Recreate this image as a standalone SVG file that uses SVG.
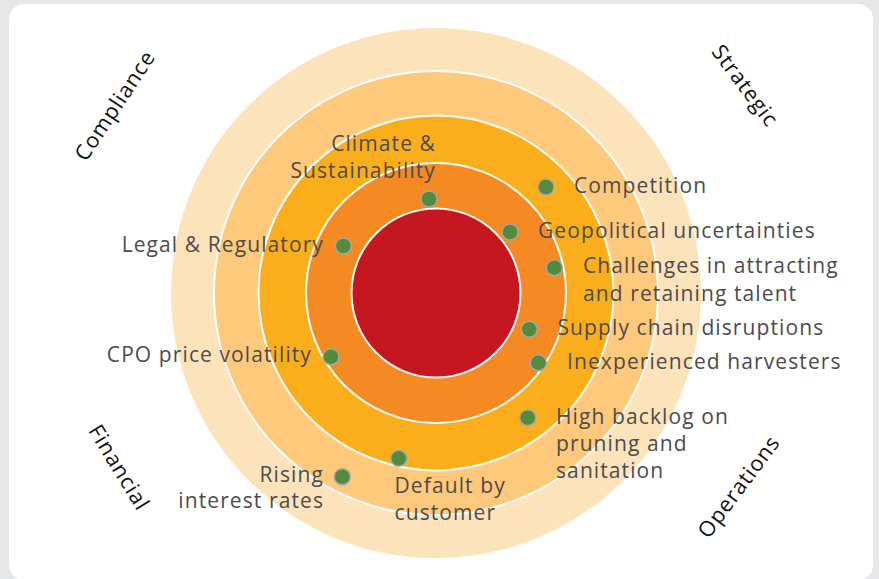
<svg xmlns="http://www.w3.org/2000/svg" width="879" height="579" viewBox="0 0 879 579">
  <style>
    .ring { stroke: #ffffff; stroke-width: 2; }
    .dot { fill: #538a3d; stroke: #a3a8a6; stroke-width: 1.5; }
    .lbl { font-family: "Open Sans", "Noto Sans", sans-serif; font-size: 21px; font-weight: 500; letter-spacing: 1.1px; fill: #4b4b4e; }
    .cat { font-family: "Open Sans", "Noto Sans", sans-serif; font-size: 21.5px; font-weight: 500; letter-spacing: 0.9px; fill: #111111; }
  </style>

  <!-- page background and card -->
  <rect x="0" y="0" width="879" height="579" fill="#e6e7e9"/>
  <rect x="9" y="4" width="864" height="576" rx="15" fill="#ffffff"/>

  <!-- concentric risk rings -->
  <g id="rings">
    <circle class="ring" cx="436" cy="293" r="266" fill="#fde3b9" stroke="none"/>
    <circle class="ring" cx="436" cy="293" r="222" fill="#fec97a"/>
    <circle class="ring" cx="436" cy="293" r="177.5" fill="#fbae1b"/>
    <circle class="ring" cx="436" cy="293" r="130" fill="#f48a21"/>
    <circle class="ring" cx="436" cy="293" r="84.5" fill="#c6161f"/>
  </g>

  <!-- category labels -->
  <g id="categories">
    <text class="cat" transform="translate(114,105) rotate(-56.5)" text-anchor="middle" dominant-baseline="central">Compliance</text>
    <text class="cat" transform="translate(746,85) rotate(53.5)" text-anchor="middle" dominant-baseline="central">Strategic</text>
    <text class="cat" transform="translate(120,467) rotate(58.5)" text-anchor="middle" dominant-baseline="central">Financial</text>
    <text class="cat" transform="translate(738,486) rotate(-53.3)" text-anchor="middle" dominant-baseline="central">Operations</text>
  </g>

  <!-- risk items -->
  <g id="climate">
    <circle class="dot" cx="429" cy="199" r="8"/>
    <text class="lbl" text-anchor="end"><tspan x="436" y="151">Climate &amp;</tspan><tspan x="436" y="177.5">Sustainability</tspan></text>
  </g>
  <g id="competition">
    <circle class="dot" cx="546" cy="187" r="8"/>
    <text class="lbl" x="574" y="193.3">Competition</text>
  </g>
  <g id="geopolitical">
    <circle class="dot" cx="510" cy="232" r="8"/>
    <text class="lbl" x="538" y="238.3">Geopolitical uncertainties</text>
  </g>
  <g id="talent">
    <circle class="dot" cx="554.3" cy="267.7" r="8"/>
    <text class="lbl"><tspan x="583" y="273.3">Challenges in attracting</tspan><tspan x="583" y="301">and retaining talent</tspan></text>
  </g>
  <g id="supply-chain">
    <circle class="dot" cx="529.3" cy="329.3" r="8"/>
    <text class="lbl" x="557.5" y="335">Supply chain disruptions</text>
  </g>
  <g id="harvesters">
    <circle class="dot" cx="538.3" cy="362.7" r="8"/>
    <text class="lbl" x="567" y="369.3">Inexperienced harvesters</text>
  </g>
  <g id="backlog">
    <circle class="dot" cx="527.7" cy="417.7" r="8"/>
    <text class="lbl"><tspan x="556" y="424">High backlog on</tspan><tspan x="556" y="451">pruning and</tspan><tspan x="556" y="477.7">sanitation</tspan></text>
  </g>
  <g id="default">
    <circle class="dot" cx="398.7" cy="458.3" r="8"/>
    <text class="lbl"><tspan x="394.5" y="492.7">Default by</tspan><tspan x="394.5" y="520">customer</tspan></text>
  </g>
  <g id="interest">
    <circle class="dot" cx="342.3" cy="476.7" r="8"/>
    <text class="lbl" text-anchor="end"><tspan x="324" y="481.7">Rising</tspan><tspan x="324" y="508">interest rates</tspan></text>
  </g>
  <g id="legal">
    <circle class="dot" cx="343.3" cy="246" r="8"/>
    <text class="lbl" x="324" y="251.7" text-anchor="end">Legal &amp; Regulatory</text>
  </g>
  <g id="cpo">
    <circle class="dot" cx="331" cy="356.7" r="8"/>
    <text class="lbl" x="312" y="361.7" text-anchor="end">CPO price volatility</text>
  </g>

  <!-- no connectors in this chart -->
  <g id="connectors"/>
</svg>
